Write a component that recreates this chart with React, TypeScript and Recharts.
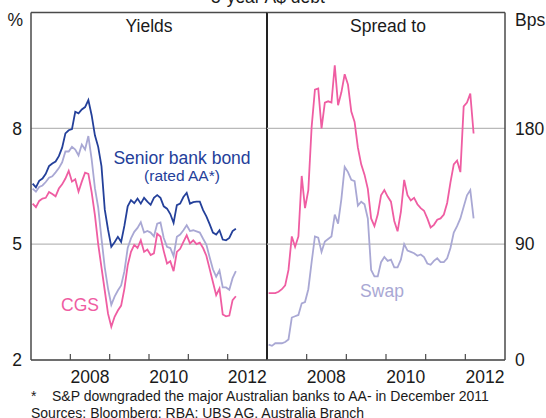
import React from "react";
import { LineChart, Line, XAxis, YAxis, CartesianGrid, ReferenceLine } from "recharts";

// monthly observations, plotted mid-month
const months = [
  "2007-01", "2007-02", "2007-03", "2007-04", "2007-05", "2007-06", "2007-07", "2007-08", "2007-09", "2007-10", "2007-11", "2007-12",
  "2008-01", "2008-02", "2008-03", "2008-04", "2008-05", "2008-06", "2008-07", "2008-08", "2008-09", "2008-10", "2008-11", "2008-12",
  "2009-01", "2009-02", "2009-03", "2009-04", "2009-05", "2009-06", "2009-07", "2009-08", "2009-09", "2009-10", "2009-11", "2009-12",
  "2010-01", "2010-02", "2010-03", "2010-04", "2010-05", "2010-06", "2010-07", "2010-08", "2010-09", "2010-10", "2010-11", "2010-12",
  "2011-01", "2011-02", "2011-03", "2011-04", "2011-05", "2011-06", "2011-07", "2011-08", "2011-09", "2011-10", "2011-11", "2011-12",
  "2012-01", "2012-02", "2012-03",
];

// yields, %
const bankBond = [
  6.57, 6.47, 6.64, 6.70, 6.82, 7.02, 7.09, 7.14, 7.28, 7.50, 7.87, 7.95,
  7.98, 8.43, 8.39, 8.49, 8.55, 8.73, 8.34, 7.82, 7.52, 7.02, 5.90, 5.38,
  4.93, 5.05, 5.19, 5.06, 5.48, 5.98, 6.14, 6.06, 6.18, 6.05, 6.20, 6.10,
  6.02, 6.20, 6.27, 6.20, 5.98, 5.92, 5.78, 5.55, 6.01, 6.05, 6.22, 6.33,
  6.05, 6.09, 6.10, 6.10, 5.88, 5.72, 5.52, 5.30, 5.25, 5.36, 5.12, 5.10,
  5.16, 5.34, 5.40,
];
const swapYield = [
  6.44, 6.36, 6.48, 6.52, 6.61, 6.72, 6.76, 6.86, 6.97, 7.12, 7.40, 7.40,
  7.52, 7.45, 7.30, 7.58, 7.45, 7.80, 7.20, 6.45, 5.95, 5.15, 4.40, 3.85,
  3.43, 3.64, 3.80, 3.93, 4.30, 4.90, 5.15, 5.32, 5.42, 5.57, 5.30, 5.34,
  5.30, 5.20, 5.53, 5.56, 5.16, 4.93, 4.90, 4.69, 5.19, 5.25, 5.36, 5.49,
  5.34, 5.36, 5.33, 5.30, 5.14, 4.99, 4.66, 4.35, 4.16, 4.32, 3.88, 3.88,
  3.82, 4.12, 4.30,
];
const cgsYield = [
  6.05, 5.96, 6.12, 6.18, 6.20, 6.35, 6.30, 6.24, 6.44, 6.55, 6.70, 6.90,
  6.62, 6.68, 6.36, 6.62, 6.85, 6.82, 6.35, 5.75, 5.00, 4.40, 3.80, 3.20,
  2.86, 3.12, 3.28, 3.41, 3.85, 4.45, 4.80, 4.98, 4.90, 5.10, 4.80, 4.86,
  4.72, 4.76, 5.27, 5.20, 4.82, 4.50, 4.56, 4.30, 4.80, 4.88, 5.06, 5.23,
  5.02, 5.10, 5.00, 5.04, 4.90, 4.70, 4.36, 4.02, 3.68, 3.85, 3.18, 3.13,
  3.15, 3.55, 3.65,
];

// spreads, bps
const spreadToCgs = [
  52, 52, 52, 53, 55, 58, 70, 96, 88, 96, 143, 118,
  132, 181, 210, 211, 180, 200, 201, 200, 229, 198, 208, 222,
  214, 193, 185, 165, 152, 144, 133, 110, 104, 113, 128, 132,
  127, 123, 108, 100, 115, 140, 128, 124, 126, 121, 118, 116,
  110, 103, 105, 109, 110, 113, 122, 138, 152, 155, 146, 197,
  200, 207, 176,
];
const spreadToSwap = [
  12, 11, 13, 13, 13, 14, 16, 33, 34, 35, 44, 45,
  55, 76, 96, 95, 84, 92, 94, 96, 113, 106, 125, 150,
  146, 140, 139, 120, 123, 121, 110, 70, 65, 65, 76, 80,
  77, 78, 72, 72, 78, 90, 85, 84, 83, 81, 82, 80,
  75, 74, 77, 79, 76, 76, 79, 87, 99, 104, 110, 119,
  128, 132, 110,
];

const yearTicks = [2008, 2009, 2010, 2011, 2012];
const yieldTicks = [2, 5, 8];
const spreadTicks = [0, 90, 180];

const W = 546;
const H = 418;
const TOP = 12.5;
const BOTTOM = 360;
const LEFT = 31;
const MID = 267;
const RIGHT = 505;
const HALF_YEAR = (MID - LEFT) / 12;

const BLUE = "#24409a";
const PINK = "#ef5da2";
const LAV = "#a9a8d4";
const FRAME = "#4a4a4a";
const GRID = "#b9b9b9";
const TEXT = "#1a1a1a";
const FONT = "'Liberation Sans', Arial, sans-serif";
const FS = 17.5;

const toYear = (m: string) => {
  const [y, mo] = m.split("-").map(Number);
  return y + (mo - 0.5) / 12;
};

const rows = months.map((m, i) => ({
  t: toYear(m),
  bank: bankBond[i],
  swap: swapYield[i],
  cgs: cgsYield[i],
  sCgs: spreadToCgs[i],
  sSwap: spreadToSwap[i],
}));

const YearTick = (props: any) => {
  const { x, payload } = props;
  if (payload.value % 2 !== 0) return <g />;
  return (
    <text x={x + HALF_YEAR} y={BOTTOM + 23} textAnchor="middle" fontSize={FS} fontFamily={FONT} fill={TEXT}>
      {payload.value}
    </text>
  );
};

const LeftTick = (props: any) => (
  <text x={LEFT - 9} y={props.y} dy="0.36em" textAnchor="end" fontSize={FS} fontFamily={FONT} fill={TEXT}>
    {props.payload.value}
  </text>
);

const RightTick = (props: any) => (
  <text x={RIGHT + 10} y={props.y} dy="0.36em" textAnchor="start" fontSize={FS} fontFamily={FONT} fill={TEXT}>
    {props.payload.value}
  </text>
);

const layer: React.CSSProperties = { position: "absolute", left: 0, top: 0 };

export default function App() {
  return (
    <div style={{ position: "absolute", left: 0, top: 0, width: W, height: H, background: "#fff", overflow: "hidden" }}>
      <div style={layer}>
        <LineChart width={W} height={H} data={rows}
          margin={{ top: TOP, left: LEFT - 1, right: W - MID, bottom: H - BOTTOM - 1 }}>
          <CartesianGrid vertical={false} stroke={GRID} strokeWidth={1.2} />
          <XAxis dataKey="t" type="number" domain={[2007, 2013]} ticks={yearTicks} interval={0}
            height={1} tickSize={-6} tick={YearTick}
            axisLine={{ stroke: FRAME, strokeWidth: 1.5 }} tickLine={{ stroke: FRAME, strokeWidth: 1.2 }} />
          <YAxis type="number" domain={[2, 11]} ticks={yieldTicks} interval={0} width={1}
            tick={LeftTick} tickLine={false} axisLine={{ stroke: FRAME, strokeWidth: 1.5 }} />
          <Line dataKey="cgs" stroke={PINK} strokeWidth={1.8} dot={false} isAnimationActive={false} />
          <Line dataKey="swap" stroke={LAV} strokeWidth={1.8} dot={false} isAnimationActive={false} />
          <Line dataKey="bank" stroke={BLUE} strokeWidth={1.8} dot={false} isAnimationActive={false} />
          <ReferenceLine y={11} stroke={FRAME} strokeWidth={1.5} />
          <ReferenceLine x={2013} stroke="#222" strokeWidth={2} />
        </LineChart>
      </div>
      <div style={layer}>
        <LineChart width={W} height={H} data={rows}
          margin={{ top: TOP, left: MID, right: W - RIGHT - 1, bottom: H - BOTTOM - 1 }}>
          <CartesianGrid vertical={false} stroke={GRID} strokeWidth={1.2} />
          <XAxis dataKey="t" type="number" domain={[2007, 2013]} ticks={yearTicks} interval={0}
            height={1} tickSize={-6} tick={YearTick}
            axisLine={{ stroke: FRAME, strokeWidth: 1.5 }} tickLine={{ stroke: FRAME, strokeWidth: 1.2 }} />
          <YAxis orientation="right" type="number" domain={[0, 270]} ticks={spreadTicks} interval={0} width={1}
            tick={RightTick} tickLine={false} axisLine={{ stroke: FRAME, strokeWidth: 1.5 }} />
          <Line dataKey="sSwap" stroke={LAV} strokeWidth={1.8} dot={false} isAnimationActive={false} />
          <Line dataKey="sCgs" stroke={PINK} strokeWidth={1.8} dot={false} isAnimationActive={false} />
          <ReferenceLine y={270} stroke={FRAME} strokeWidth={1.5} />
        </LineChart>
      </div>
      <svg style={layer} width={W} height={H} fontFamily={FONT}>
        <text x={MID + 1} y={2.5} textAnchor="middle" fontSize={FS} fill={TEXT}>5-year A$ debt</text>
        <text x={(LEFT + MID) / 2} y={32} textAnchor="middle" fontSize={FS} fill={TEXT}>Yields</text>
        <text x={(MID + RIGHT) / 2 + 2} y={32} textAnchor="middle" fontSize={FS} fill={TEXT}>Spread to</text>
        <text x={23} y={26} textAnchor="end" fontSize={FS} fill={TEXT}>%</text>
        <text x={RIGHT + 10} y={26} textAnchor="start" fontSize={FS} fill={TEXT}>Bps</text>
        <text x={182} y={163.5} textAnchor="middle" fontSize={FS} fill={BLUE}>Senior bank bond</text>
        <text x={182} y={180.5} textAnchor="middle" fontSize={15.5} fill={BLUE}>(rated AA*)</text>
        <text x={80} y={310.5} textAnchor="middle" fontSize={FS} fill={PINK}>CGS</text>
        <text x={382} y={296.5} textAnchor="middle" fontSize={FS} fill={LAV}>Swap</text>
        <text x={31} y={401} fontSize={14} fill={TEXT}>*</text>
        <text x={52} y={401} fontSize={14} fill={TEXT}>S&amp;P downgraded the major Australian banks to AA- in December 2011</text>
        <text x={31} y={417.5} fontSize={14} fill={TEXT}>Sources: Bloomberg; RBA; UBS AG, Australia Branch</text>
      </svg>
    </div>
  );
}
